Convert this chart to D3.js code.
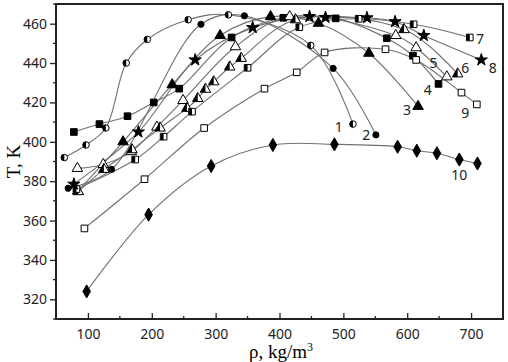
<!DOCTYPE html>
<html>
<head>
<meta charset="utf-8">
<script src="https://cdn.jsdelivr.net/npm/d3@7"></script>
<style>
body { margin: 0; background: #fff; }
svg { display: block; }
.tick text { font-family: "Noto Sans", "Open Sans", sans-serif; font-size: 14px; fill: #222; }
</style>
</head>
<body>
<div id="chart"></div>
<script>
// density (kg/m3), temperature (K) for each curve
var s1 = [[63,392],[97,398.4],[128,407],[160,440],[193,452],[257,462],[320,464.5],[449,449],[515,409]];
var s2 = [[69,376.4],[137,386],[277,459.7],[345,464],[484,437.3],[551,403.5]];
var s3 = [[84,375],[155,400],[232,429],[307,454],[386,463.6],[461,460.2],[540,445],[617,418]];
var s4 = [[78,405],[118,409],[162,413],[203,420],[243,427],[325,453],[406,463],[488,462.7],[568,452.6],[609,443.7],[649,429.4]];
var s5 = [[83.5,386.5],[124,388.5],[168,395],[208,407.5],[249,421],[331,448.3],[416,463.6],[582,454],[614,447.8],[662,433]];
var s6 = [[85,374.7],[125,386],[169,396],[213,407],[255,417],[272,422],[284,426.7],[297,430.5],[322,438],[340,442.4],[425,462],[595,457],[679,434.5]];
var s7 = [[82,376],[174,391],[218.5,402.6],[263,415.3],[350,437.6],[431,458.2],[524,462.5],[610,459.7],[698,453]];
var s8 = [[78,378.5],[179,405],[268,441.6],[358,458],[447,463.6],[472,463.2],[537,463],[581,461],[626,454],[716,441.6]];
var s9 = [[94.5,356],[188.6,381],[282,407],[376.5,427],[427,435.3],[470.6,445.4],[566,447],[614,441.6],[685,425],[709,419]];
var s10 = [[98,324],[195,363],[293,387.7],[389.6,398.4],[486,398.7],[585,397.5],[615,395.5],[646.5,394.2],[681.6,391],[710,389]];

var seriesNames = ['1','2','3','4','5','6','7','8','9','10'];
var seriesMarks = ['halfcircle','circle','triangle','square','opentriangle','halftriangle','halfsquare','star','opensquare','diamond'];
var labelPos = [[492.7,407.5],[536,403.5],[599.5,416],[632,426.3],[641,439.9],[691,437.6],[714,452],[734,437.3],[691,414.8],[681.6,383.2]];

var xTicks = [100,200,300,400,500,600,700];
var yTicks = [320,340,360,380,400,420,440,460];

var allSeries = [s1,s2,s3,s4,s5,s6,s7,s8,s9,s10];

dim = {
    'width': 508,
    'height': 362,
    'left': 56,
    'top': 4,
    'right': 5,
    'bottom': 43
};

var svg = d3.select('#chart').append('svg')
    .attr('width', dim.width)
    .attr('height', dim.height);

var xScale = d3.scaleLinear()
    .domain([50, 750])
    .range([dim.left, dim.width - dim.right]);
var yScale = d3.scaleLinear()
    .domain([310, 470])
    .range([dim.height - dim.bottom, dim.top]);

// half fill clip
svg.append('defs').append('clipPath')
    .attr('id', 'lefthalf')
    .attr('clipPathUnits', 'objectBoundingBox')
  .append('rect')
    .attr('x', 0).attr('y', 0).attr('width', 0.5).attr('height', 1);

// minor ticks
var xMinor = d3.range(50, 751, 50).filter(v => xTicks.indexOf(v) < 0);
var yMinor = d3.range(310, 471, 10).filter(v => yTicks.indexOf(v) < 0);

var xAxis = d3.axisBottom(xScale).tickValues(xTicks).tickSizeInner(-6).tickSizeOuter(0).tickPadding(10);
var yAxis = d3.axisLeft(yScale).tickValues(yTicks).tickSizeInner(6).tickSizeOuter(0).tickPadding(3);

var gx = svg.append('g').attr('transform', `translate(0,${dim.height - dim.bottom})`).call(xAxis);
var gy = svg.append('g').attr('transform', `translate(${dim.left},0)`).call(yAxis);
gx.select('.domain').remove();
gy.select('.domain').remove();
svg.selectAll('.tick line').attr('stroke', '#222').attr('stroke-width', 1.3);

svg.append('g').selectAll('line').data(xMinor).join('line')
    .attr('x1', d => xScale(d)).attr('x2', d => xScale(d))
    .attr('y1', dim.height - dim.bottom).attr('y2', dim.height - dim.bottom - 3)
    .attr('stroke', '#222').attr('stroke-width', 1.3);
svg.append('g').selectAll('line').data(yMinor).join('line')
    .attr('x1', dim.left - 3).attr('x2', dim.left)
    .attr('y1', d => yScale(d)).attr('y2', d => yScale(d))
    .attr('stroke', '#222').attr('stroke-width', 1.3);

// frame
svg.append('rect')
    .attr('x', dim.left).attr('y', dim.top)
    .attr('width', dim.width - dim.left - dim.right)
    .attr('height', dim.height - dim.top - dim.bottom)
    .attr('fill', 'none').attr('stroke', '#222').attr('stroke-width', 2);

var line = d3.line()
    .x(d => xScale(d[0]))
    .y(d => yScale(d[1]))
    .curve(d3.curveCatmullRom.alpha(0.5));

var plot = svg.append('g');

allSeries.forEach(function(s) {
    plot.append('path')
        .datum(s)
        .attr('d', line)
        .attr('fill', 'none')
        .attr('stroke', '#707070')
        .attr('stroke-width', 1.1);
});

function symbolFor(kind) {
    if (kind.indexOf('circle') >= 0) return d3.symbol().type(d3.symbolCircle).size(kind == 'circle' ? 30 : 34);
    if (kind.indexOf('triangle') >= 0) return d3.symbol().type(d3.symbolTriangle).size(48);
    if (kind.indexOf('square') >= 0) return d3.symbol().type(d3.symbolSquare).size(44);
    if (kind == 'star') return d3.symbol().type(d3.symbolStar).size(46);
    return d3.symbol().type(d3.symbolDiamond).size(50);
}

allSeries.forEach(function(s, i) {
    var kind = seriesMarks[i];
    var sym = symbolFor(kind);
    var g = plot.append('g');
    var open = kind.indexOf('open') == 0 || kind.indexOf('half') == 0;
    g.selectAll('path.m').data(s).join('path')
        .attr('class', 'm')
        .attr('transform', d => `translate(${xScale(d[0])},${yScale(d[1])})`)
        .attr('d', sym)
        .attr('fill', open ? '#fff' : '#000')
        .attr('stroke', '#000')
        .attr('stroke-width', 1);
    if (kind.indexOf('half') == 0) {
        g.selectAll('g.h').data(s).join('g')
            .attr('class', 'h')
            .attr('transform', d => `translate(${xScale(d[0])},${yScale(d[1])})`)
          .append('path')
            .attr('d', sym)
            .attr('clip-path', 'url(#lefthalf)')
            .attr('fill', '#000');
    }
});

// curve numbers
svg.append('g').selectAll('text').data(seriesNames).join('text')
    .attr('x', (d, i) => xScale(labelPos[i][0]))
    .attr('y', (d, i) => yScale(labelPos[i][1]))
    .attr('text-anchor', 'middle')
    .attr('dy', '0.36em')
    .style('font-family', '"Noto Sans", "Open Sans", sans-serif')
    .style('font-size', '14px')
    .attr('fill', '#222')
    .text(d => d);

// axis titles
svg.append('text')
    .attr('transform', `translate(20,${(dim.top + dim.height - dim.bottom) / 2}) rotate(-90)`)
    .attr('text-anchor', 'middle')
    .style('font-family', '"Liberation Serif", "DejaVu Serif", serif')
    .style('font-size', '19px')
    .text('T, K');

var xt = svg.append('text')
    .attr('x', 281)
    .attr('y', 358)
    .attr('text-anchor', 'middle')
    .style('font-family', '"Liberation Serif", "DejaVu Serif", serif')
    .style('font-size', '19px');
xt.append('tspan').text('ρ, kg/m');
xt.append('tspan').attr('dy', '-7').style('font-size', '12px').text('3');
</script>
</body>
</html>
